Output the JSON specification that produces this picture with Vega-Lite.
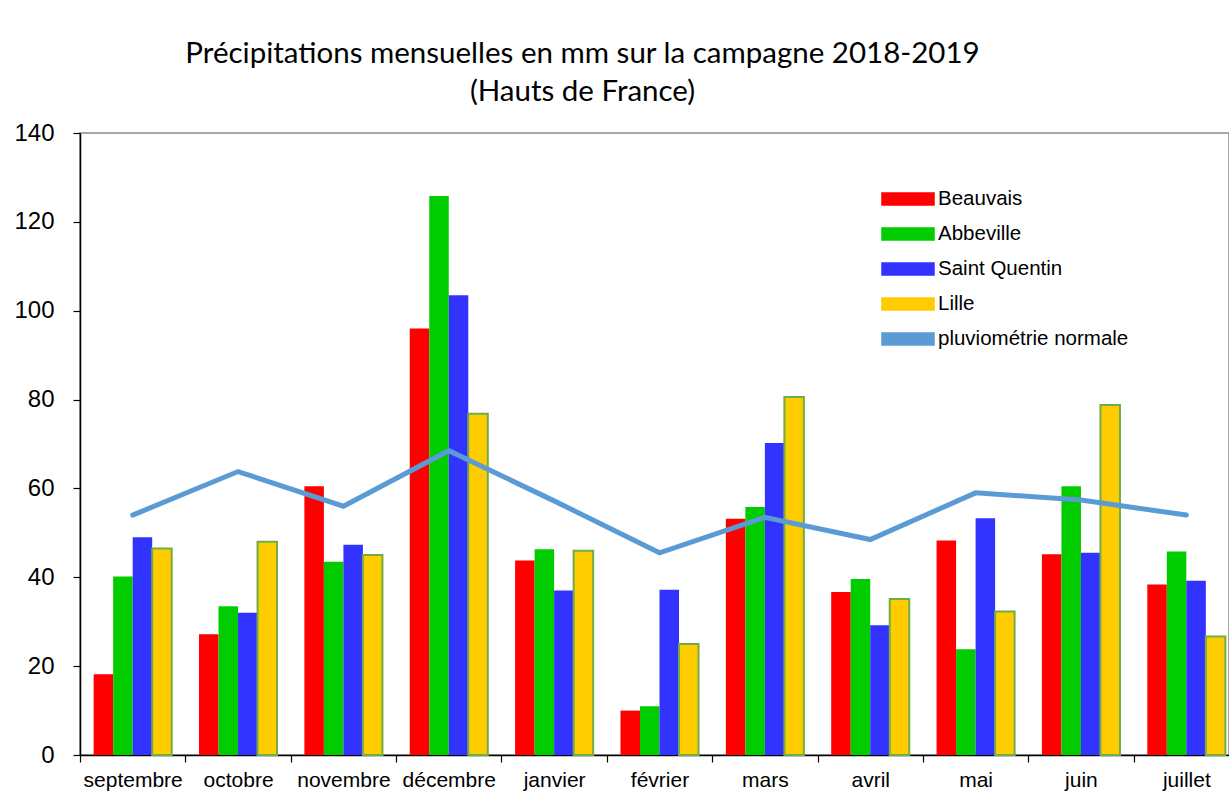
{
  "$schema": "https://vega.github.io/schema/vega-lite/v6.json",
  "autosize": {"type": "none"},
  "padding": {"left": 80, "top": 133, "right": 0, "bottom": 52},
  "width": 1149,
  "height": 622,
  "background": "white",
  "config": {
    "view": {"stroke": "#8c8c8c", "strokeWidth": 1.5},
    "font": "Liberation Sans",
    "axis": {"labelFont": "Liberation Sans"},
    "legend": {"labelFont": "Liberation Sans"}
  },
  "title": {
    "text": ["Précipitations mensuelles en mm sur la campagne 2018-2019", "(Hauts de France)"],
    "font": "Lato",
    "fontSize": 29.5,
    "fontWeight": "normal",
    "color": "black",
    "anchor": "middle",
    "dx": -72,
    "baseline": "alphabetic",
    "offset": -9,
    "lineHeight": 38
  },
  "datasets": {
    "precip": [
      {"mois": "septembre", "station": "Beauvais", "mm": 18.2},
      {"mois": "septembre", "station": "Abbeville", "mm": 40.2},
      {"mois": "septembre", "station": "Saint Quentin", "mm": 49.0},
      {"mois": "septembre", "station": "Lille", "mm": 46.5},
      {"mois": "octobre", "station": "Beauvais", "mm": 27.2},
      {"mois": "octobre", "station": "Abbeville", "mm": 33.5},
      {"mois": "octobre", "station": "Saint Quentin", "mm": 32.0},
      {"mois": "octobre", "station": "Lille", "mm": 48.0},
      {"mois": "novembre", "station": "Beauvais", "mm": 60.5},
      {"mois": "novembre", "station": "Abbeville", "mm": 43.5},
      {"mois": "novembre", "station": "Saint Quentin", "mm": 47.3},
      {"mois": "novembre", "station": "Lille", "mm": 45.0},
      {"mois": "décembre", "station": "Beauvais", "mm": 96.0},
      {"mois": "décembre", "station": "Abbeville", "mm": 125.8},
      {"mois": "décembre", "station": "Saint Quentin", "mm": 103.5},
      {"mois": "décembre", "station": "Lille", "mm": 76.8},
      {"mois": "janvier", "station": "Beauvais", "mm": 43.8},
      {"mois": "janvier", "station": "Abbeville", "mm": 46.3},
      {"mois": "janvier", "station": "Saint Quentin", "mm": 37.0},
      {"mois": "janvier", "station": "Lille", "mm": 46.0},
      {"mois": "février", "station": "Beauvais", "mm": 10.0},
      {"mois": "février", "station": "Abbeville", "mm": 11.0},
      {"mois": "février", "station": "Saint Quentin", "mm": 37.2},
      {"mois": "février", "station": "Lille", "mm": 25.0},
      {"mois": "mars", "station": "Beauvais", "mm": 53.2},
      {"mois": "mars", "station": "Abbeville", "mm": 55.8},
      {"mois": "mars", "station": "Saint Quentin", "mm": 70.2},
      {"mois": "mars", "station": "Lille", "mm": 80.6},
      {"mois": "avril", "station": "Beauvais", "mm": 36.7},
      {"mois": "avril", "station": "Abbeville", "mm": 39.6},
      {"mois": "avril", "station": "Saint Quentin", "mm": 29.2},
      {"mois": "avril", "station": "Lille", "mm": 35.1},
      {"mois": "mai", "station": "Beauvais", "mm": 48.3},
      {"mois": "mai", "station": "Abbeville", "mm": 23.8},
      {"mois": "mai", "station": "Saint Quentin", "mm": 53.3},
      {"mois": "mai", "station": "Lille", "mm": 32.3},
      {"mois": "juin", "station": "Beauvais", "mm": 45.2},
      {"mois": "juin", "station": "Abbeville", "mm": 60.5},
      {"mois": "juin", "station": "Saint Quentin", "mm": 45.5},
      {"mois": "juin", "station": "Lille", "mm": 78.8},
      {"mois": "juillet", "station": "Beauvais", "mm": 38.4},
      {"mois": "juillet", "station": "Abbeville", "mm": 45.8},
      {"mois": "juillet", "station": "Saint Quentin", "mm": 39.2},
      {"mois": "juillet", "station": "Lille", "mm": 26.7}
    ],
    "normale": [
      {"mois": "septembre", "mm": 54.0},
      {"mois": "octobre", "mm": 63.8},
      {"mois": "novembre", "mm": 56.0},
      {"mois": "décembre", "mm": 68.5},
      {"mois": "janvier", "mm": 57.2},
      {"mois": "février", "mm": 45.5},
      {"mois": "mars", "mm": 53.5},
      {"mois": "avril", "mm": 48.5},
      {"mois": "mai", "mm": 59.0},
      {"mois": "juin", "mm": 57.4},
      {"mois": "juillet", "mm": 54.0}
    ]
  },
  "encoding": {
    "x": {
      "field": "mois",
      "type": "nominal",
      "sort": ["septembre", "octobre", "novembre", "décembre", "janvier", "février", "mars", "avril", "mai", "juin", "juillet"],
      "scale": {"padding": 0, "range": [0, 1159]},
      "axis": {
        "title": null,
        "labelAngle": 0,
        "labelFont": "Liberation Sans",
        "labelFontSize": 21,
        "labelColor": "black",
        "labelPadding": 7,
        "tickBand": "extent",
        "tickSize": 7,
        "tickColor": "black",
        "tickWidth": 1.2,
        "domainColor": "black",
        "domainWidth": 1.5
      }
    },
    "y": {
      "field": "mm",
      "type": "quantitative",
      "scale": {"domain": [0, 140], "nice": false},
      "axis": {
        "title": null,
        "values": [0, 20, 40, 60, 80, 100, 120, 140],
        "grid": false,
        "labelFont": "Liberation Sans",
        "labelFontSize": 24,
        "labelColor": "black",
        "labelPadding": 19,
        "tickSize": 7,
        "tickColor": "black",
        "tickWidth": 1.2,
        "domainColor": "black",
        "domainWidth": 1.5
      }
    }
  },
  "layer": [
    {
      "data": {"name": "precip"},
      "mark": {"type": "bar"},
      "encoding": {
        "xOffset": {
          "field": "station",
          "type": "nominal",
          "sort": ["Beauvais", "Abbeville", "Saint Quentin", "Lille"],
          "scale": {"paddingInner": 0, "paddingOuter": 0.7}
        },
        "color": {
          "field": "station",
          "type": "nominal",
          "scale": {
            "domain": ["Beauvais", "Abbeville", "Saint Quentin", "Lille", "pluviométrie normale"],
            "range": ["#ff0000", "#00cc00", "#3333ff", "#ffcc00", "#5b9bd5"]
          },
          "legend": {
            "title": null,
            "orient": "none",
            "legendX": 814,
            "legendY": 52,
            "padding": 0,
            "symbolType": "M-2,-0.46H2V0.46H-2Z",
            "symbolSize": 676,
            "symbolOpacity": 1,
            "labelFont": "Liberation Sans",
            "labelFontSize": 20.5,
            "labelColor": "black",
            "labelOffset": 16,
            "labelLimit": 400,
            "rowPadding": 10,
            "encode": {
              "symbols": {
                "update": {
                  "shape": {"signal": "datum.value === 'pluviométrie normale' ? 'M-1.95,-0.2H1.95A0.2,0.2,0,0,1,1.95,0.2H-1.95A0.2,0.2,0,0,1,-1.95,-0.2Z' : 'M-2,-0.46H2V0.46H-2Z'"},
                  "fill": {"scale": "color", "field": "value"},
                  "fillOpacity": {"value": 1},
                  "stroke": {"signal": "datum.value === 'Lille' ? '#70ad47' : 'transparent'"},
                  "strokeWidth": {"signal": "datum.value === 'Lille' ? 2 : 0"}
                }
              }
            }
          }
        },
        "stroke": {
          "condition": {"test": "datum.station === 'Lille'", "value": "#70ad47"},
          "value": null
        },
        "strokeWidth": {
          "condition": {"test": "datum.station === 'Lille'", "value": 2},
          "value": 0
        }
      }
    },
    {
      "data": {"name": "normale"},
      "mark": {"type": "line", "strokeWidth": 5, "strokeCap": "round", "strokeJoin": "miter"},
      "encoding": {
        "color": {"datum": "pluviométrie normale"}
      }
    }
  ]
}
